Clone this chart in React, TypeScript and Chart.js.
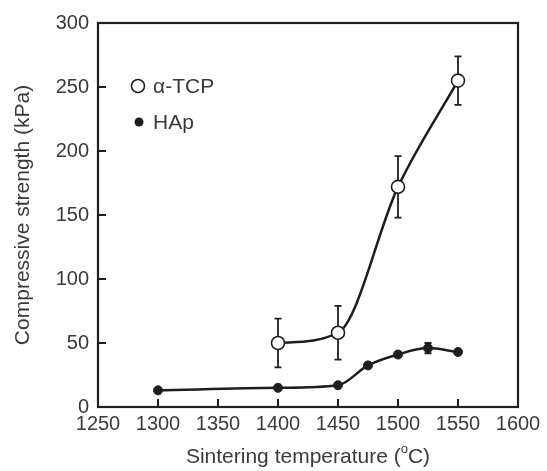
import React, { useEffect, useRef } from "react";
import { Chart, registerables } from "chart.js";

Chart.register(...registerables);

const tempsTCP = [1400, 1450, 1500, 1550];
const strengthTCP = [50, 58, 172, 255];
const errTCP = [19, 21, 24, 19];

const tempsHAp = [1300, 1400, 1450, 1475, 1500, 1525, 1550];
const strengthHAp = [13, 15, 17, 32.5, 41, 46, 43];
const errHAp = [0, 0, 0, 0, 0, 4, 0];

const xTicks = [1250, 1300, 1350, 1400, 1450, 1500, 1550, 1600];
const yTicks = [0, 50, 100, 150, 200, 250, 300];

const labelTCP = "α-TCP";
const labelHAp = "HAp";
const yTitle = "Compressive strength (kPa)";
const xTitleParts = ["Sintering temperature (", "o", "C)"];

const FONT = "'Liberation Sans', Arial, Helvetica, sans-serif";
const TEXT = "#3a3a3a";
const INK = "#1e1e1e";

const framePlugin = {
  id: "frameTicks",
  beforeDatasetsDraw(chart: any) {
    const { ctx, scales } = chart;
    ctx.save();
    chart.data.datasets.forEach((ds: any, di: number) => {
      const meta = chart.getDatasetMeta(di);
      const errs: number[] = ds.errors || [];
      ctx.strokeStyle = INK;
      ctx.lineWidth = 1.8;
      meta.data.forEach((pt: any, i: number) => {
        const e = errs[i];
        if (!e) return;
        const v = ds.data[i].y;
        const x = pt.x;
        const yt = scales.y.getPixelForValue(v + e);
        const yb = scales.y.getPixelForValue(v - e);
        ctx.beginPath();
        ctx.moveTo(x, yt);
        ctx.lineTo(x, yb);
        ctx.moveTo(x - 3.5, yt);
        ctx.lineTo(x + 3.5, yt);
        ctx.moveTo(x - 3.5, yb);
        ctx.lineTo(x + 3.5, yb);
        ctx.stroke();
      });
    });
    ctx.restore();
  },
  afterDatasetsDraw(chart: any) {
    const { ctx, chartArea, scales } = chart;
    const { left, right, top, bottom } = chartArea;
    ctx.save();
    ctx.strokeStyle = INK;
    ctx.lineWidth = 2.2;
    ctx.strokeRect(left, top, right - left, bottom - top);
    ctx.lineWidth = 2;
    yTicks.forEach((t) => {
      const y = scales.y.getPixelForValue(t);
      ctx.beginPath();
      ctx.moveTo(left, y);
      ctx.lineTo(left + 8, y);
      ctx.stroke();
    });
    xTicks.forEach((t) => {
      const x = scales.x.getPixelForValue(t);
      ctx.beginPath();
      ctx.moveTo(x, bottom);
      ctx.lineTo(x, bottom - 8);
      ctx.stroke();
    });

    // legend
    const ds0 = chart.data.datasets[0];
    const ds1 = chart.data.datasets[1];
    ctx.font = `21px ${FONT}`;
    ctx.textBaseline = "middle";
    ctx.textAlign = "left";
    ctx.beginPath();
    ctx.arc(left + 40, top + 63, 6.5, 0, Math.PI * 2);
    ctx.fillStyle = "#fff";
    ctx.fill();
    ctx.lineWidth = 1.6;
    ctx.strokeStyle = INK;
    ctx.stroke();
    ctx.fillStyle = TEXT;
    ctx.fillText(ds0.label, left + 55, top + 64);
    ctx.beginPath();
    ctx.arc(left + 41, top + 99, 4.5, 0, Math.PI * 2);
    ctx.fillStyle = INK;
    ctx.fill();
    ctx.fillStyle = TEXT;
    ctx.fillText(ds1.label, left + 55, top + 100);

    // x title with superscript
    const cx = (left + right) / 2;
    const cy = bottom + 48;
    const big = `21px ${FONT}`;
    const small = `13px ${FONT}`;
    ctx.font = big;
    const w0 = ctx.measureText(xTitleParts[0]).width;
    const w2 = ctx.measureText(xTitleParts[2]).width;
    ctx.font = small;
    const w1 = ctx.measureText(xTitleParts[1]).width;
    let x = cx - (w0 + w1 + w2) / 2;
    ctx.textBaseline = "alphabetic";
    ctx.font = big;
    ctx.fillText(xTitleParts[0], x, cy + 8);
    x += w0;
    ctx.font = small;
    ctx.fillText(xTitleParts[1], x, cy - 2);
    x += w1;
    ctx.font = big;
    ctx.fillText(xTitleParts[2], x, cy + 8);
    ctx.restore();
  },
};

export default function App() {
  const ref = useRef<HTMLCanvasElement>(null);
  useEffect(() => {
    if (!ref.current) return;
    const chart = new Chart(ref.current, {
      type: "line",
      data: {
        datasets: [
          {
            label: labelTCP,
            data: tempsTCP.map((t, i) => ({ x: t, y: strengthTCP[i] })),
            errors: errTCP,
            borderColor: INK,
            borderWidth: 2.5,
            backgroundColor: "#ffffff",
            pointBackgroundColor: "#ffffff",
            pointBorderColor: INK,
            pointBorderWidth: 1.6,
            pointRadius: 6.5,
            cubicInterpolationMode: "monotone",
            fill: false,
          } as any,
          {
            label: labelHAp,
            data: tempsHAp.map((t, i) => ({ x: t, y: strengthHAp[i] })),
            errors: errHAp,
            borderColor: INK,
            borderWidth: 2.5,
            backgroundColor: INK,
            pointBackgroundColor: INK,
            pointBorderColor: INK,
            pointBorderWidth: 1,
            pointRadius: 4.5,
            cubicInterpolationMode: "monotone",
            fill: false,
          } as any,
        ],
      },
      options: {
        responsive: false,
        animation: false,
        devicePixelRatio: 1,
        layout: { padding: { left: 0, top: 23, right: 29, bottom: 0 } },
        plugins: { legend: { display: false }, tooltip: { enabled: false } },
        scales: {
          x: {
            type: "linear",
            min: 1250,
            max: 1600,
            afterBuildTicks: (s: any) => {
              s.ticks = xTicks.map((v) => ({ value: v }));
            },
            afterFit: (s: any) => {
              s.height = 64;
            },
            grid: { display: false, drawTicks: false },
            border: { display: false },
            ticks: {
              padding: 5,
              maxRotation: 0,
              autoSkip: false,
              color: TEXT,
              font: { family: FONT, size: 20 },
              callback: (v: any) => String(v),
            },
          },
          y: {
            type: "linear",
            min: 0,
            max: 300,
            afterBuildTicks: (s: any) => {
              s.ticks = yTicks.map((v) => ({ value: v }));
            },
            afterFit: (s: any) => {
              s.width = 98;
            },
            grid: { display: false, drawTicks: false },
            border: { display: false },
            ticks: {
              padding: 9,
              autoSkip: false,
              color: TEXT,
              font: { family: FONT, size: 20 },
              callback: (v: any) => String(v),
            },
            title: {
              display: true,
              text: yTitle,
              color: TEXT,
              font: { family: FONT, size: 21 },
              padding: { top: 11, bottom: 0 },
            },
          },
        },
      } as any,
      plugins: [framePlugin],
    });
    return () => chart.destroy();
  }, []);
  return (
    <div style={{ position: "absolute", left: 0, top: 0, width: 547, height: 471, background: "#fff" }}>
      <canvas ref={ref} width={547} height={471} style={{ display: "block" }} />
    </div>
  );
}
